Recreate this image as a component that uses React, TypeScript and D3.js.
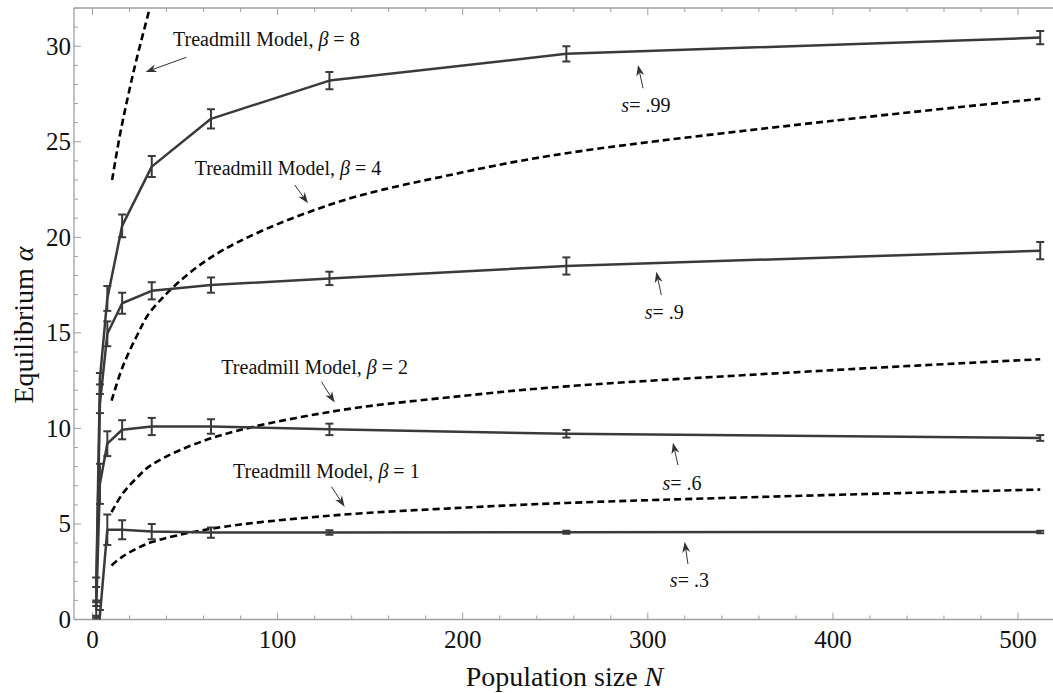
import React from "react";
import * as d3 from "d3";

// ---- data ----
const popN = [2, 4, 8, 16, 32, 64, 128, 256, 512];
const s99 = [1.6, 12.6, 16.8, 20.6, 23.7, 26.2, 28.2, 29.6, 30.45];
const s99Err = [0.6, 0.3, 0.65, 0.6, 0.55, 0.5, 0.45, 0.4, 0.35];
const s90 = [1.2, 11.3, 14.95, 16.55, 17.2, 17.5, 17.85, 18.5, 19.3];
const s90Err = [0.5, 0.5, 0.65, 0.55, 0.45, 0.4, 0.35, 0.45, 0.45];
const s60 = [0.5, 7.1, 9.2, 9.93, 10.1, 10.1, 9.95, 9.72, 9.5];
const s60Err = [0.4, 1.05, 0.65, 0.5, 0.45, 0.38, 0.3, 0.2, 0.15];
const s30 = [0.1, 0.2, 4.7, 4.7, 4.6, 4.55, 4.55, 4.57, 4.58];
const s30Err = [0.1, 0.3, 0.8, 0.5, 0.4, 0.27, 0.12, 0.08, 0.07];

const treadN = [10.3, 16, 24, 32, 64, 128, 200, 256, 400, 512];
const tread1 = [2.83, 3.28, 3.72, 4.05, 4.75, 5.43, 5.85, 6.1, 6.52, 6.8];
const tread2 = [5.62, 6.55, 7.42, 8.1, 9.48, 10.86, 11.7, 12.2, 13.05, 13.62];
const tread4 = [11.45, 13.15, 14.85, 16.2, 18.95, 21.7, 23.4, 24.4, 26.1, 27.25];
const tread8N = [10.6, 14.7, 19, 24, 31.5];
const tread8 = [23.0, 25.3, 27.3, 29.4, 32.2];

const xTicks = [0, 100, 200, 300, 400, 500];
const yTicks = [0, 5, 10, 15, 20, 25, 30];

// annotations in data coordinates: label, text pos, arrow from, arrow to
const annotations = [
  { kind: "beta", val: "8", tx: 43.5, ty: 30.03, ax: 50.7, ay: 29.42, bx: 28.7, by: 28.65 },
  { kind: "beta", val: "4", tx: 55.2, ty: 23.26, ax: 109.2, ay: 22.74, bx: 116.4, by: 21.78 },
  { kind: "beta", val: "2", tx: 69.6, ty: 12.83, ax: 123.7, ay: 12.44, bx: 130.8, by: 11.35 },
  { kind: "beta", val: "1", tx: 75.9, ty: 7.39, ax: 129.1, ay: 6.95, bx: 136.2, by: 5.9 },
  { kind: "s", val: ".99", tx: 285.7, ty: 26.57, ax: 297.4, ay: 27.8, bx: 294.7, by: 29.02 },
  { kind: "s", val: ".9", tx: 298.3, ty: 15.71, ax: 307.3, ay: 16.98, bx: 304.6, by: 18.2 },
  { kind: "s", val: ".6", tx: 307.9, ty: 6.78, ax: 316.3, ay: 8.08, bx: 313.6, by: 9.25 },
  { kind: "s", val: ".3", tx: 311.9, ty: 1.72, ax: 321.7, ay: 2.9, bx: 319.9, by: 4.07 },
];

const W = 1053;
const H = 693;
const left = 74;
const top = 8;
const bottom = 619.5;
const FONT = "'Liberation Serif', 'Times New Roman', serif";

export default function App() {
  const x = d3.scaleLinear().domain([-10, 525]).range([left, left + 535 * 1.851]);
  const y = d3.scaleLinear().domain([0, 32]).range([bottom, top]);
  const right = x(525);

  const series = [
    { v: s99, e: s99Err },
    { v: s90, e: s90Err },
    { v: s60, e: s60Err },
    { v: s30, e: s30Err },
  ];
  const dataLine = d3
    .line<number>()
    .x((_, i) => x(popN[i]))
    .y((d) => y(d));

  const dashed = (ns: number[], vs: number[]) =>
    d3
      .line<number>()
      .x((_, i) => x(ns[i]))
      .y((d) => y(d))
      .curve(d3.curveCatmullRom.alpha(0.5))(vs) as string;

  const xMinor = d3.range(0, 521, 20);
  const yMinor = d3.range(0, 33, 1);
  const tickCol = "#a0a0a0";
  const lineCol = "#3a3a3a";

  const arrowHead = (ax: number, ay: number, bx: number, by: number) => {
    const x1 = x(ax), y1 = y(ay), x2 = x(bx), y2 = y(by);
    const ang = Math.atan2(y2 - y1, x2 - x1);
    const L = 11, Wd = 4;
    const bx0 = x2 - L * Math.cos(ang), by0 = y2 - L * Math.sin(ang);
    const px = -Math.sin(ang) * Wd, py = Math.cos(ang) * Wd;
    const ix = x2 - 0.7 * L * Math.cos(ang), iy = y2 - 0.7 * L * Math.sin(ang);
    return {
      line: { x1, y1, x2: ix, y2: iy },
      tri: `M${x2},${y2} L${bx0 + px},${by0 + py} L${ix},${iy} L${bx0 - px},${by0 - py} Z`,
    };
  };

  return (
    <svg
      width={W}
      height={H}
      style={{ position: "absolute", left: 0, top: 0, background: "#fff" }}
      fontFamily={FONT}
    >
      <defs>
        <clipPath id="plot">
          <rect x={left} y={top} width={right - left} height={bottom - top} />
        </clipPath>
      </defs>
      <rect x={0} y={0} width={W} height={H} fill="#fff" />

      {/* frame */}
      <line x1={left} x2={right} y1={bottom} y2={bottom} stroke={tickCol} strokeWidth={1.3} />
      <line x1={left} x2={right} y1={top} y2={top} stroke={tickCol} strokeWidth={1.3} />
      <line x1={left} x2={left} y1={top} y2={bottom} stroke={tickCol} strokeWidth={1.3} />

      {/* x ticks */}
      {xMinor.map((t) => {
        const major = t % 100 === 0;
        const len = major ? 7 : 4;
        return (
          <g key={"xt" + t}>
            <line x1={x(t)} x2={x(t)} y1={bottom} y2={bottom - len} stroke={tickCol} strokeWidth={1} />
            <line x1={x(t)} x2={x(t)} y1={top} y2={top + len} stroke={tickCol} strokeWidth={1} />
          </g>
        );
      })}
      {/* y ticks */}
      {yMinor.map((t) => {
        const major = t % 5 === 0;
        const len = major ? 7 : 4;
        return (
          <line key={"yt" + t} x1={left} x2={left + len} y1={y(t)} y2={y(t)} stroke={tickCol} strokeWidth={1} />
        );
      })}
      {xTicks.map((t) => (
        <text key={"xl" + t} x={x(t)} y={648} textAnchor="middle" fontSize={25} fill="#111">
          {t}
        </text>
      ))}
      {yTicks.map((t) => (
        <text key={"yl" + t} x={71} y={y(t) + 8.5} textAnchor="end" fontSize={25} fill="#111">
          {t}
        </text>
      ))}

      {/* axis titles */}
      <text x={x(255)} y={686} textAnchor="middle" fontSize={28} fill="#111">
        Population size <tspan fontStyle="italic">N</tspan>
      </text>
      <text
        transform={`translate(33, ${325}) rotate(-90)`}
        textAnchor="middle"
        fontSize={28}
        fill="#111"
      >
        Equilibrium <tspan fontStyle="italic">α</tspan>
      </text>

      <g clipPath="url(#plot)">
        {/* dashed treadmill curves */}
        {[
          [treadN, tread1],
          [treadN, tread2],
          [treadN, tread4],
          [tread8N, tread8],
        ].map(([ns, vs], i) => (
          <path
            key={"td" + i}
            d={dashed(ns, vs)}
            fill="none"
            stroke="#000"
            strokeWidth={2.6}
            strokeDasharray="7,4"
          />
        ))}

        {/* data series */}
        {series.map((s, si) => (
          <g key={"s" + si}>
            <path d={dataLine(s.v) as string} fill="none" stroke={lineCol} strokeWidth={2.5} strokeLinejoin="round" />
            {s.v.map((v, i) => {
              const cx = x(popN[i]);
              const y1 = y(v - s.e[i]);
              const y2 = y(v + s.e[i]);
              return (
                <g key={i} stroke={lineCol} strokeWidth={2}>
                  <line x1={cx} x2={cx} y1={y1} y2={y2} />
                  <line x1={cx - 4} x2={cx + 4} y1={y1} y2={y1} />
                  <line x1={cx - 4} x2={cx + 4} y1={y2} y2={y2} />
                </g>
              );
            })}
          </g>
        ))}
      </g>

      {/* annotations */}
      {annotations.map((a, i) => {
        const ah = arrowHead(a.ax, a.ay, a.bx, a.by);
        return (
          <g key={"an" + i}>
            <line {...ah.line} stroke="#333" strokeWidth={1} />
            <path d={ah.tri} fill="#333" />
            <text x={x(a.tx)} y={y(a.ty)} fontSize={20} fill="#111">
              {a.kind === "beta" ? (
                <>
                  Treadmill Model, <tspan fontStyle="italic">β</tspan> = {a.val}
                </>
              ) : (
                <>
                  <tspan fontStyle="italic">s</tspan>= {a.val}
                </>
              )}
            </text>
          </g>
        );
      })}
    </svg>
  );
}
